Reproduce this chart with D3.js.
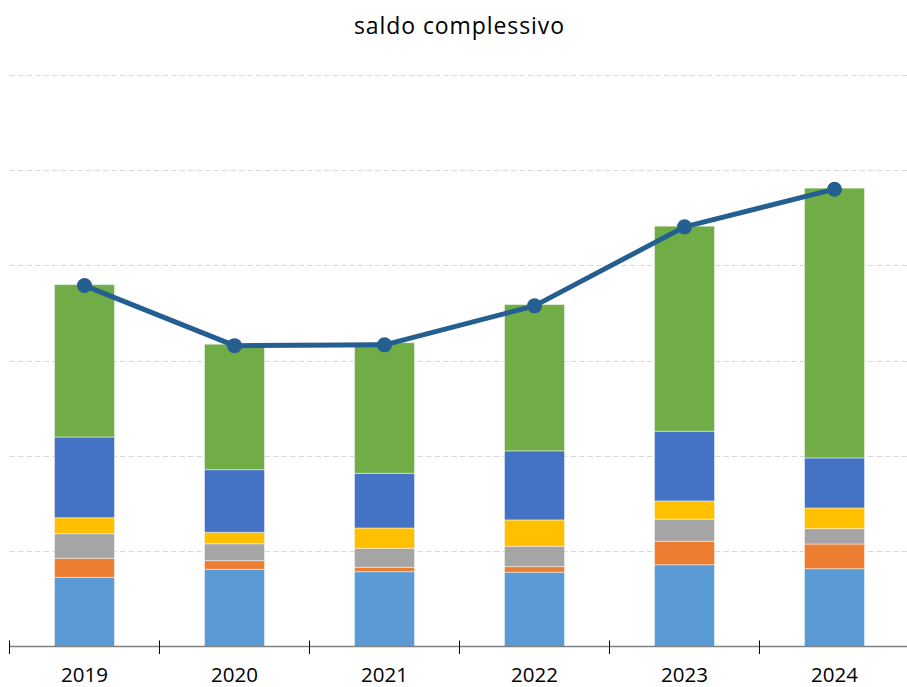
<!DOCTYPE html>
<html>
<head>
<meta charset="utf-8">
<script src="https://cdn.jsdelivr.net/npm/d3@7"></script>
<style>
  html, body { margin: 0; padding: 0; background: #fff; }
  svg { display: block; font-family: "Open Sans", "Noto Sans", sans-serif; }
</style>
</head>
<body>
<svg id="chart" width="907" height="687"></svg>
<script>
const years = ["2019", "2020", "2021", "2022", "2023", "2024"];
const seriesNames = ["s1", "s2", "s3", "s4", "s5", "s6"];
const s1 = [72.6, 81.0, 78.5, 77.9, 85.8, 81.6];
const s2 = [19.9, 9.0, 4.6, 5.9, 24.6, 25.9];
const s3 = [25.8, 17.8, 19.9, 21.4, 23.1, 16.1];
const s4 = [16.8, 12.0, 21.3, 27.6, 19.2, 21.7];
const s5 = [84.7, 65.7, 57.4, 72.4, 73.1, 52.5];
const s6 = [159.8, 131.6, 137.0, 153.5, 215.1, 283.0];
const saldo = [378.6, 315.6, 316.4, 357.3, 440.2, 479.7];
const gridTicks = [100, 200, 300, 400, 500, 600];
const colors = ["#5B9BD5", "#ED7D31", "#A5A5A5", "#FFC000", "#4472C4", "#70AD47"];
const title = "saldo complessivo";

const svg = d3.select("#chart");
const x = d3.scaleBand().domain(years).range([9.5, 909.5]).paddingInner(0.6).paddingOuter(0.3);
const y = d3.scaleLinear().domain([0, 600]).range([646.5, 74.5]);

// gridlines
svg.append("g").selectAll("line").data(gridTicks).join("line")
  .attr("x1", 9.5).attr("x2", 907)
  .attr("y1", d => Math.round(y(d)) + 0.5).attr("y2", d => Math.round(y(d)) + 0.5)
  .attr("stroke", "#d9d9d9").attr("stroke-width", 1.2).attr("stroke-dasharray", "5.5,3");

// stacked data
const seriesArr = [s1, s2, s3, s4, s5, s6];
const table = years.map((yr, i) => {
  const o = { year: yr };
  seriesNames.forEach((n, k) => o[n] = seriesArr[k][i]);
  return o;
});
const stack = d3.stack().keys(seriesNames)(table);

svg.append("g").selectAll("g").data(stack).join("g")
  .attr("fill", (d, i) => colors[i])
  .selectAll("rect").data(d => d).join("rect")
  .attr("x", d => x(d.data.year))
  .attr("width", x.bandwidth())
  .attr("y", d => y(d[1]))
  .attr("height", d => y(d[0]) - y(d[1]))
  .attr("stroke", "#ffffff").attr("stroke-opacity", 0.45).attr("stroke-width", 1);

// axis
const axisG = svg.append("g").attr("transform", `translate(0,${y(0)})`);
axisG.call(d3.axisBottom(x).tickSize(0).tickPadding(0))
  .call(g => g.select(".domain").remove());
axisG.selectAll(".tick text")
  .attr("font-size", 20.5).attr("fill", "#000").attr("dy", null).attr("y", 35.5)
  .attr("font-family", "\"Open Sans\", sans-serif");
axisG.append("line").attr("x1", 9.5).attr("x2", 907).attr("y1", 0).attr("y2", 0)
  .attr("stroke", "#808080").attr("stroke-width", 1.3);
const step = x.step();
const bounds = years.map(d => x(d) - (step - x.bandwidth()) / 2).concat([x(years[years.length - 1]) + x.bandwidth() + (step - x.bandwidth()) / 2]);
axisG.selectAll("line.tk").data(bounds).join("line").attr("class", "tk")
  .attr("x1", d => d).attr("x2", d => d).attr("y1", -6).attr("y2", 7.5)
  .attr("stroke", "#000").attr("stroke-width", 1);

// line
const line = d3.line().x((d, i) => x(years[i]) + x.bandwidth() / 2).y(d => y(d));
svg.append("path").datum(saldo).attr("d", line)
  .attr("fill", "none").attr("stroke", "#255E91").attr("stroke-width", 5).attr("stroke-linejoin", "round");
svg.append("g").selectAll("circle").data(saldo).join("circle")
  .attr("cx", (d, i) => x(years[i]) + x.bandwidth() / 2)
  .attr("cy", d => y(d)).attr("r", 7.5).attr("fill", "#255E91");

// title
svg.append("text").attr("x", 459).attr("y", 34).attr("text-anchor", "middle")
  .attr("font-size", 23).attr("fill", "#000")
  .attr("textLength", 210).attr("lengthAdjust", "spacing").text(title);
</script>
</body>
</html>
